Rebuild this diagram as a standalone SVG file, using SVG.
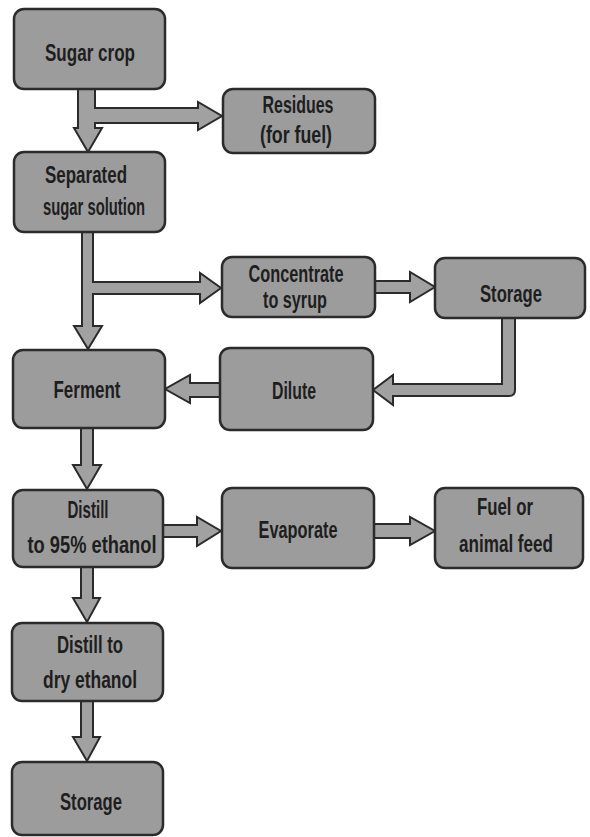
<svg xmlns="http://www.w3.org/2000/svg" width="590" height="837" viewBox="0 0 590 837">
<style>
.box{fill:#9c9c9c;stroke:#2b2b2b;stroke-width:2.5}
.arr{fill:#a1a1a1;stroke:#2b2b2b;stroke-width:2;stroke-linejoin:miter}
text{font-family:"Liberation Sans",Arial,sans-serif;font-size:23px;font-weight:bold;fill:#1e1e1e;text-anchor:middle}
</style>
<rect width="590" height="837" fill="#ffffff"/>
<g id="connectors">
<polygon class="arr" points="78,89 78,128 74,128 88,152 102,128 95,128 95,123 198,123 198,130 222,116 198,102 198,108 95,108 95,89"/>
<polygon class="arr" points="82,232 82,326 74,326 88,349 102,326 93,326 93,294 200,294 200,303 221,288 200,273 200,282 93,282 93,232"/>
<polygon class="arr" points="375,281 410,281 410,272 435,287 410,302 410,293 375,293"/>
<path class="arr" d="M502,318 L502,384 L393,384 L393,375 L373,390 L393,405 L393,396 L509,396 Q515,396 515,390 L515,318"/>
<polygon class="arr" points="220,383 190,383 190,375 165,389 190,403 190,397 220,397"/>
<polygon class="arr" points="81,428 81,465 73,465 87,489 101,465 93,465 93,428"/>
<polygon class="arr" points="163,525 197,525 197,517 221,531 197,546 197,537 163,537"/>
<polygon class="arr" points="374,524 410,524 410,517 435,531 410,545 410,538 374,538"/>
<polygon class="arr" points="81,567 81,598 73,598 87,622 100,598 93,598 93,567"/>
<polygon class="arr" points="81,701 81,737 73,737 87,761 100,737 93,737 93,701"/>
</g>
<g id="sugar-crop"><rect class="box" x="14" y="9" width="151" height="80" rx="10"/><text x="90" y="61" textLength="90" lengthAdjust="spacingAndGlyphs">Sugar crop</text></g>
<g id="residues"><rect class="box" x="223" y="89" width="152" height="64" rx="10"/><text x="298" y="113" textLength="71" lengthAdjust="spacingAndGlyphs">Residues</text><text x="296" y="143" textLength="72" lengthAdjust="spacingAndGlyphs">(for fuel)</text></g>
<g id="separated"><rect class="box" x="14" y="152" width="151" height="80" rx="10"/><text x="86" y="183" textLength="82" lengthAdjust="spacingAndGlyphs">Separated</text><text x="94" y="215" textLength="102" lengthAdjust="spacingAndGlyphs">sugar solution</text></g>
<g id="concentrate"><rect class="box" x="222" y="257" width="153" height="60" rx="10"/><text x="296" y="282" textLength="95" lengthAdjust="spacingAndGlyphs">Concentrate</text><text x="295" y="308" textLength="64" lengthAdjust="spacingAndGlyphs">to syrup</text></g>
<g id="storage-1"><rect class="box" x="435" y="258" width="150" height="60" rx="10"/><text x="511" y="302" textLength="62" lengthAdjust="spacingAndGlyphs">Storage</text></g>
<g id="dilute"><rect class="box" x="220" y="348" width="153" height="82" rx="10"/><text x="294" y="399" textLength="44" lengthAdjust="spacingAndGlyphs">Dilute</text></g>
<g id="ferment"><rect class="box" x="13" y="350" width="152" height="78" rx="10"/><text x="87" y="398" textLength="67" lengthAdjust="spacingAndGlyphs">Ferment</text></g>
<g id="distill-95"><rect class="box" x="13" y="490" width="150" height="77" rx="10"/><text x="88" y="518" textLength="41" lengthAdjust="spacingAndGlyphs">Distill</text><text x="92" y="553" textLength="129" lengthAdjust="spacingAndGlyphs">to 95% ethanol</text></g>
<g id="evaporate"><rect class="box" x="222" y="488" width="152" height="80" rx="10"/><text x="298" y="538" textLength="79" lengthAdjust="spacingAndGlyphs">Evaporate</text></g>
<g id="fuel-feed"><rect class="box" x="435" y="488" width="148" height="80" rx="10"/><text x="505" y="515" textLength="56" lengthAdjust="spacingAndGlyphs">Fuel or</text><text x="506" y="552" textLength="94" lengthAdjust="spacingAndGlyphs">animal feed</text></g>
<g id="distill-dry"><rect class="box" x="12" y="623" width="151" height="78" rx="10"/><text x="90" y="653" textLength="66" lengthAdjust="spacingAndGlyphs">Distill to</text><text x="90" y="688" textLength="94" lengthAdjust="spacingAndGlyphs">dry ethanol</text></g>
<g id="storage-2"><rect class="box" x="12" y="762" width="151" height="73" rx="10"/><text x="91" y="810" textLength="62" lengthAdjust="spacingAndGlyphs">Storage</text></g>
</svg>
